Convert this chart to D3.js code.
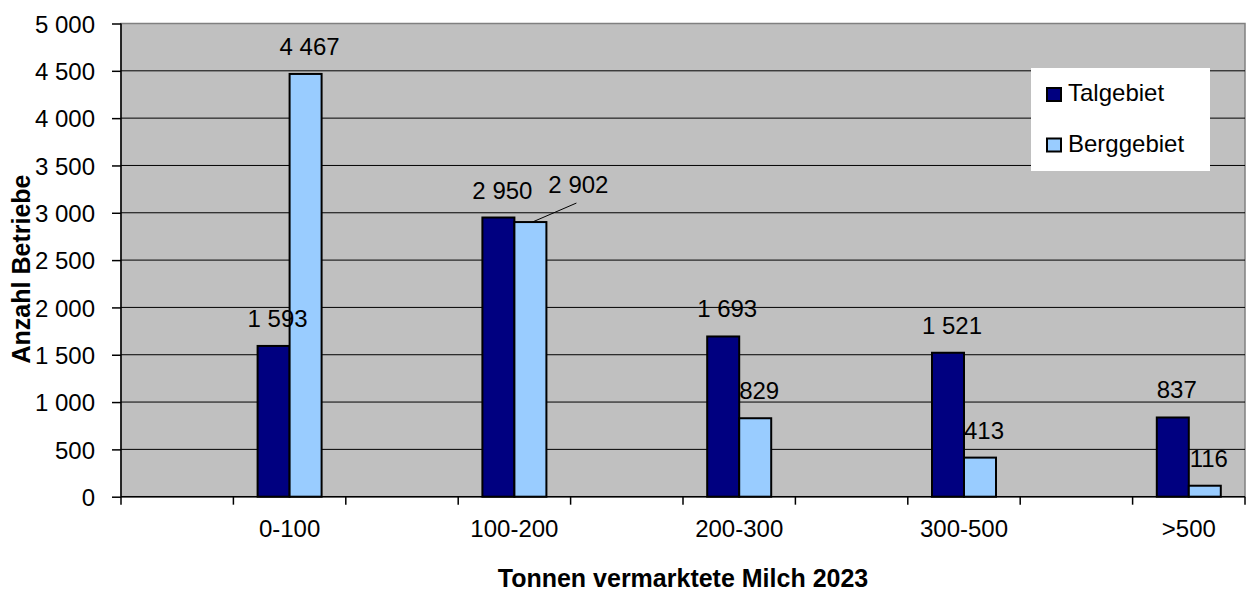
<!DOCTYPE html>
<html>
<head>
<meta charset="utf-8">
<script src="https://cdn.jsdelivr.net/npm/d3@7"></script>
<style>
  body { margin: 0; background: #fff; }
  svg text { font-family: "Liberation Sans", Arial, sans-serif; fill: #000; }
</style>
</head>
<body>
<div id="viz"></div>
<script>

// data
var categories = ["0-100", "100-200", "200-300", "300-500", ">500"];
var talgebiet  = [1593, 2950, 1693, 1521, 837];
var berggebiet = [4467, 2902, 829, 413, 116];
var seriesNames = ["Talgebiet", "Berggebiet"];
var seriesColors = ["#000080", "#99CCFF"];
var yTicks = [0, 500, 1000, 1500, 2000, 2500, 3000, 3500, 4000, 4500, 5000];

var W = 1246, H = 591;
var plot = { left: 121, top: 23.5, right: 1245, bottom: 496.7 };
var barW = 32;

var fmt = function (v) { return d3.format(",")(v).replace(/,/g, " "); };

var svg = d3.select("#viz").append("svg")
    .attr("width", W)
    .attr("height", H);

var x = d3.scaleBand()
    .domain(categories)
    .range([plot.left, plot.right]);

var y = d3.scaleLinear()
    .domain([0, 5000])
    .range([plot.bottom, plot.top]);

// plot area background
svg.append("rect")
    .attr("x", plot.left).attr("y", plot.top)
    .attr("width", plot.right - plot.left)
    .attr("height", plot.bottom - plot.top)
    .attr("fill", "#C0C0C0")
    .attr("stroke", "#808080")
    .attr("stroke-width", 1.5);

// gridlines
svg.append("g")
    .selectAll("line")
    .data(yTicks.filter(function (d) { return d > 0 && d < 5000; }))
    .enter().append("line")
    .attr("x1", plot.left).attr("x2", plot.right)
    .attr("y1", function (d) { return y(d); })
    .attr("y2", function (d) { return y(d); })
    .attr("stroke", "#000")
    .attr("stroke-width", 1);

// y axis
var yAxis = svg.append("g")
    .attr("transform", "translate(" + plot.left + ",0)")
    .call(d3.axisLeft(y).tickValues(yTicks).tickFormat(fmt).tickSize(9).tickPadding(17));
yAxis.selectAll("text").style("font-size", "24px").attr("dy", "0.36em");
yAxis.selectAll("path, line").attr("stroke", "#000").attr("stroke-width", 1.5);
yAxis.select(".domain").attr("d", "M0," + plot.top + "V" + plot.bottom);

// x axis: ticks at band start and band middle (empty half slots)
var bw = x.bandwidth();
var tickPos = [];
categories.forEach(function (c) { tickPos.push(x(c)); tickPos.push(x(c) + bw / 2); });
tickPos.push(plot.right);

var xg = svg.append("g");
xg.append("line")
    .attr("x1", plot.left).attr("x2", plot.right)
    .attr("y1", plot.bottom).attr("y2", plot.bottom)
    .attr("stroke", "#000").attr("stroke-width", 1.5);
xg.selectAll("line.tick")
    .data(tickPos)
    .enter().append("line")
    .attr("class", "tick")
    .attr("x1", function (d) { return d; }).attr("x2", function (d) { return d; })
    .attr("y1", plot.bottom).attr("y2", plot.bottom + 8)
    .attr("stroke", "#000").attr("stroke-width", 1.5);
xg.selectAll("text")
    .data(categories)
    .enter().append("text")
    .attr("x", function (d) { return x(d) + bw * 0.75; })
    .attr("y", 537)
    .attr("text-anchor", "middle")
    .style("font-size", "24px")
    .text(function (d) { return d; });

// bars
var series = [talgebiet, berggebiet];
var groupCenter = function (c) { return x(c) + bw * 0.75; };

series.forEach(function (vals, si) {
    svg.append("g").selectAll("rect")
        .data(vals)
        .enter().append("rect")
        .attr("x", function (d, i) { return groupCenter(categories[i]) - barW + si * barW; })
        .attr("y", function (d) { return y(d); })
        .attr("width", barW)
        .attr("height", function (d) { return plot.bottom - y(d); })
        .attr("fill", seriesColors[si])
        .attr("stroke", "#000")
        .attr("stroke-width", 2);
});

// value labels (one label moved aside with a leader line, as in the source)
var moved = { "1-1": [44, -10] };
series.forEach(function (vals, si) {
    vals.forEach(function (v, i) {
        var bx = groupCenter(categories[i]) - barW / 2 + si * barW;
        var by = y(v);
        var lx = bx + 4, ly = by - 19;
        var m = moved[si + "-" + i];
        if (m) {
            lx += m[0]; ly += m[1];
            svg.append("line")
                .attr("x1", bx + 2).attr("y1", by)
                .attr("x2", lx - 2).attr("y2", ly + 10)
                .attr("stroke", "#000").attr("stroke-width", 1);
        }
        svg.append("text")
            .attr("x", lx).attr("y", ly)
            .attr("text-anchor", "middle")
            .style("font-size", "24px")
            .text(fmt(v));
    });
});

// legend
var lg = svg.append("g").attr("transform", "translate(1031,68)");
lg.append("rect")
    .attr("width", 179).attr("height", 103)
    .attr("fill", "#fff");
seriesNames.forEach(function (name, i) {
    var row = lg.append("g").attr("transform", "translate(0," + (i * 50.5) + ")");
    row.append("rect")
        .attr("x", 16).attr("y", 20)
        .attr("width", 14).attr("height", 13)
        .attr("fill", seriesColors[i])
        .attr("stroke", "#000").attr("stroke-width", 2);
    row.append("text")
        .attr("x", 37).attr("y", 33)
        .style("font-size", "24px")
        .text(name);
});

// axis titles
svg.append("text")
    .attr("transform", "translate(30,269) rotate(-90)")
    .attr("text-anchor", "middle")
    .style("font-size", "25px")
    .style("font-weight", "bold")
    .text("Anzahl Betriebe");

svg.append("text")
    .attr("x", 683).attr("y", 587)
    .attr("text-anchor", "middle")
    .style("font-size", "25px")
    .style("font-weight", "bold")
    .text("Tonnen vermarktete Milch 2023");

</script>
</body>
</html>
